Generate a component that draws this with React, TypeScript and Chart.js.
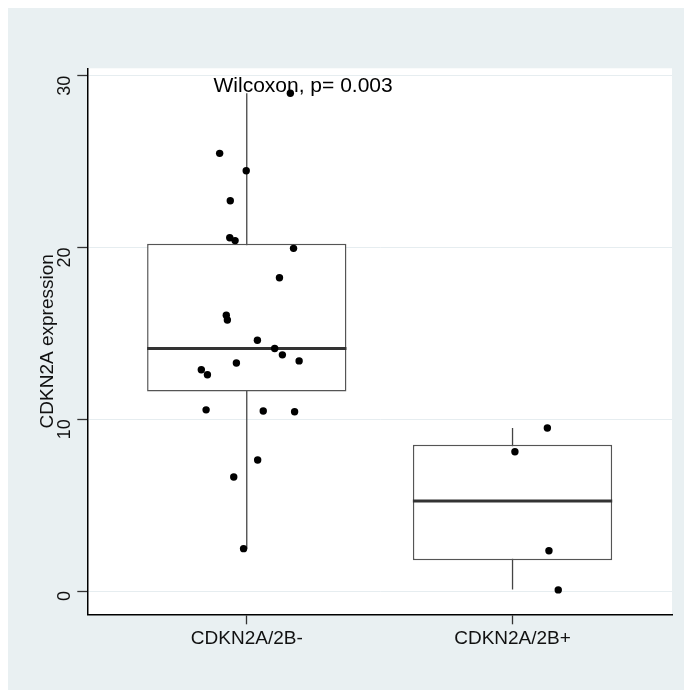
import React, { useEffect, useRef } from "react";
import { Chart, registerables } from "chart.js";

Chart.register(...registerables);

// ---------- data ----------
const CATEGORIES = ["CDKN2A/2B-", "CDKN2A/2B+"];
const CATEGORY_POS = [1, 2];

// jittered observations (value, horizontal jitter offset from category centre)
const NEG_VALUES = [28.98, 25.48, 24.47, 22.72, 20.57, 20.4, 19.95, 18.24, 16.06, 15.78, 14.6, 14.12, 13.75, 13.4, 13.28, 12.88, 12.59, 10.55, 10.48, 10.44, 7.63, 6.64, 2.47];
const NEG_JITTER = [0.164, -0.102, -0.002, -0.062, -0.064, -0.044, 0.176, 0.123, -0.077, -0.073, 0.04, 0.105, 0.134, 0.197, -0.039, -0.171, -0.148, -0.153, 0.062, 0.18, 0.041, -0.049, -0.012];
const POS_VALUES = [9.49, 8.11, 2.35, 0.07];
const POS_JITTER = [0.131, 0.009, 0.137, 0.172];

// box statistics per category
const Q1 = [11.62, 1.79];
const MEDIAN = [14.12, 5.24];
const Q3 = [20.22, 8.52];
const WHISKER_LO = [2.47, 0.09];
const WHISKER_HI = [28.98, 9.49];

const Y_TICKS = [0, 10, 20, 30];
const Y_MIN = -1.35;
const Y_MAX = 30.43;
const X_MIN = 0.4;
const X_MAX = 2.6;
const BOX_WIDTH = 0.75;

const ANNOT_TEXT = "Wilcoxon, p= 0.003";
const ANNOT_X = 1.212;
const ANNOT_Y = 29.4;

const FAMILY = "'Liberation Sans', Arial, Helvetica, sans-serif";
const BG = "#E9F0F2";

export default function App() {
  const ref = useRef<HTMLCanvasElement | null>(null);

  useEffect(() => {
    const canvas = ref.current;
    if (!canvas) return;

    const points = [
      ...NEG_VALUES.map((v, i) => ({ x: CATEGORY_POS[0] + NEG_JITTER[i], y: v })),
      ...POS_VALUES.map((v, i) => ({ x: CATEGORY_POS[1] + POS_JITTER[i], y: v })),
    ];
    const medianSegs: any[] = [];
    const whiskerSegs: any[] = [];
    CATEGORY_POS.forEach((c, i) => {
      medianSegs.push({ x: c - BOX_WIDTH / 2, y: MEDIAN[i] }, { x: c + BOX_WIDTH / 2, y: MEDIAN[i] }, { x: c + 0.5, y: null });
      whiskerSegs.push({ x: c, y: WHISKER_LO[i] }, { x: c, y: WHISKER_HI[i] }, { x: c + 0.5, y: null });
    });
    const boxes = CATEGORY_POS.map((c, i) => ({ x: c, y: [Q1[i], Q3[i]] }));

    const bgPlugin = {
      id: "bgPlugin",
      beforeDraw(chart: any) {
        const { ctx, chartArea } = chart;
        ctx.save();
        ctx.fillStyle = BG;
        ctx.fillRect(0, 0, chart.width, chart.height);
        ctx.fillStyle = "#ffffff";
        ctx.fillRect(chartArea.left, chartArea.top, chartArea.right - chartArea.left, chartArea.bottom - chartArea.top);
        ctx.restore();
      },
    };
    const annotPlugin = {
      id: "annotPlugin",
      afterDatasetsDraw(chart: any) {
        const { ctx, scales } = chart;
        ctx.save();
        ctx.font = `21px ${FAMILY}`;
        ctx.fillStyle = "#000";
        ctx.textAlign = "center";
        ctx.textBaseline = "middle";
        ctx.fillText(ANNOT_TEXT, scales.x.getPixelForValue(ANNOT_X), scales.y.getPixelForValue(ANNOT_Y));
        ctx.restore();
      },
    };

    const chart = new Chart(canvas, {
      type: "bar",
      data: {
        datasets: [
          {
            type: "scatter",
            label: "points",
            data: points,
            backgroundColor: "#000",
            borderColor: "#000",
            borderWidth: 0,
            pointRadius: 3.7,
            order: 0,
          } as any,
          {
            type: "line",
            label: "median",
            data: medianSegs,
            borderColor: "#333333",
            borderWidth: 3,
            pointRadius: 0,
            spanGaps: false,
            fill: false,
            order: 1,
          } as any,
          {
            type: "bar",
            label: "box",
            data: boxes,
            backgroundColor: "#ffffff",
            borderColor: "#555555",
            borderWidth: 1.5,
            borderSkipped: false,
            categoryPercentage: BOX_WIDTH,
            barPercentage: 1,
            order: 2,
          } as any,
          {
            type: "line",
            label: "whisker",
            data: whiskerSegs,
            borderColor: "#444444",
            borderWidth: 1.3,
            pointRadius: 0,
            spanGaps: false,
            fill: false,
            order: 3,
          } as any,
        ],
      },
      options: {
        animation: false,
        responsive: false,
        maintainAspectRatio: false,
        layout: { padding: { top: 60.3, right: 20, left: 0, bottom: 0 } },
        plugins: { legend: { display: false }, tooltip: { enabled: false } },
        scales: {
          x: {
            type: "linear",
            min: X_MIN,
            max: X_MAX,
            offset: false,
            afterBuildTicks: (s: any) => {
              s.ticks = CATEGORY_POS.map((v) => ({ value: v }));
            },
            afterFit: (s: any) => {
              s.height = 75.7;
            },
            ticks: {
              callback: (v: any) => {
                const i = CATEGORY_POS.indexOf(Number(v));
                return i >= 0 ? CATEGORIES[i] : "";
              },
              font: { size: 19, family: FAMILY },
              color: "#111",
              padding: 3,
              autoSkip: false,
              maxRotation: 0,
            },
            grid: { drawOnChartArea: false, drawTicks: true, tickLength: 10, tickColor: "#333", tickWidth: 1.3, offset: false },
            border: { display: true, color: "#000", width: 1.5 },
          },
          y: {
            type: "linear",
            min: Y_MIN,
            max: Y_MAX,
            afterBuildTicks: (s: any) => {
              s.ticks = Y_TICKS.map((v) => ({ value: v }));
            },
            afterFit: (s: any) => {
              s.width = 79.3;
            },
            ticks: {
              font: { size: 18, family: FAMILY },
              color: "#111",
              padding: 12,
              minRotation: 90,
              maxRotation: 90,
            },
            grid: { color: "#E6EDF0", lineWidth: 1, drawTicks: true, tickLength: 10, tickColor: "#333", tickWidth: 1.3 },
            border: { display: true, color: "#000", width: 1.5 },
            title: {
              display: true,
              text: "CDKN2A expression",
              font: { size: 19, family: FAMILY },
              color: "#111",
              padding: { top: 28, bottom: 0 },
            },
          },
        },
      } as any,
      plugins: [bgPlugin, annotPlugin],
    });

    return () => chart.destroy();
  }, []);

  return (
    <div>
      <canvas ref={ref} width={684} height={682} style={{ display: "block" }} />
    </div>
  );
}
